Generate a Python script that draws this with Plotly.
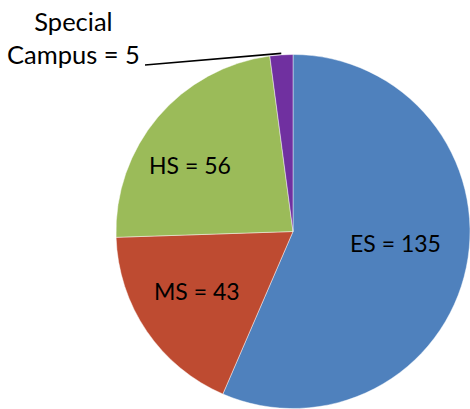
import math
import plotly.graph_objects as go

categories = ["ES", "MS", "HS", "Special Campus"]
values = [135, 43, 56, 5]
colors = ["#4F81BD", "#BE4B31", "#9BBB59", "#7030A0"]
label_radius = [0.583, 0.636, 0.694]   # fraction of radius for inside labels
label_shift_deg = [-5.3, 2.4, -7.3]    # small angular nudge from mid-angle

W, H = 470, 409

# pie geometry (pixels)
x0, x1 = 116, 470
y_top = 54
dom_x = [x0 / W, x1 / W]
dom_y = [0, 1 - y_top / H]

fig = go.Figure(go.Pie(
    labels=categories,
    values=values,
    sort=False,
    direction="clockwise",
    rotation=0,
    marker=dict(colors=colors, line=dict(color="rgba(255,255,255,0.55)", width=0.8)),
    textinfo="none",
    domain=dict(x=dom_x, y=dom_y),
    hoverinfo="skip",
    showlegend=False,
))

total = sum(values)
cx = (x0 + x1) / 2
r = min(x1 - x0, H - y_top) / 2
cy = H - (H - y_top) / 2

cum = 0
mids = []
for v in values:
    mids.append((cum + v / 2) / total)
    cum += v

# inside labels, positioned from data (mid-angle of each slice)
for i in range(3):
    th = 2 * math.pi * mids[i] + math.radians(label_shift_deg[i])
    px = cx + label_radius[i] * r * math.sin(th)
    py = cy - label_radius[i] * r * math.cos(th)
    fig.add_annotation(xref="paper", yref="paper", x=px / W, y=1 - py / H,
                       xanchor="center", yanchor="middle",
                       text=f"{categories[i]} = {values[i]}", showarrow=False,
                       font=dict(family="Lato", size=23, color="black"))

# leader line to the small slice, end point from data
th = 2 * math.pi * mids[3]
ex = cx + (r + 1.5) * math.sin(th)
ey = cy - (r + 1.5) * math.cos(th)
fig.add_shape(type="line", xref="paper", yref="paper",
              x0=145 / W, y0=1 - 65 / H, x1=ex / W, y1=1 - ey / H,
              line=dict(color="black", width=1.6))
fig.add_annotation(xref="paper", yref="paper", x=73.5 / W, y=1 - 37.5 / H,
                   xanchor="center", yanchor="middle",
                   text="Special<br>Campus = " + str(values[3]),
                   showarrow=False, align="center",
                   font=dict(family="Lato", size=25.5, color="black"))

fig.update_layout(width=W, height=H, margin=dict(l=0, r=0, t=0, b=0),
                  paper_bgcolor="white", plot_bgcolor="white")
fig.write_html("out.html", config={"displayModeBar": False},
               post_script="document.body.style.margin='0px';document.body.style.overflow='hidden';")
